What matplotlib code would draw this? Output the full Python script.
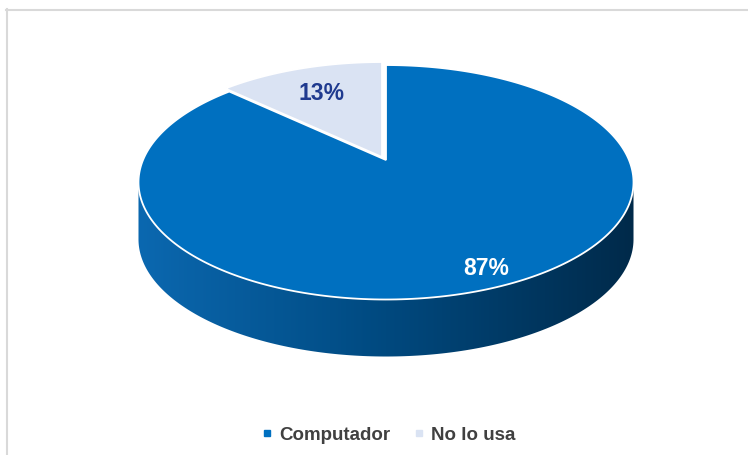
import numpy as np
import matplotlib.pyplot as plt
from matplotlib.patches import Polygon
from matplotlib.lines import Line2D
from matplotlib.colors import LinearSegmentedColormap

plt.rcParams['font.family'] = ['Liberation Sans', 'DejaVu Sans']

# ---------------------------------------------------------------------------
# Data
# ---------------------------------------------------------------------------
categories = ['Computador', 'No lo usa']
values = [87, 13]

colors = ['#0070C0', '#DAE3F3']
label_colors = ['white', '#1F3A8F']
explode_px = [(0, 0), (-4, -3)]        # small nudge of the light slice
label_r = [0.88, 0.70]

# ---------------------------------------------------------------------------
# 3-D pie geometry (pixel coordinates, y down)
# ---------------------------------------------------------------------------
CX, CY = 386, 161          # pie centre on screen
A, B = 243, 113            # horizontal / vertical radius
K = 0.19                   # perspective strength
DEPTH = 57                 # thickness of the disc


def proj(t, cx, cy, r=1.0):
    u, v = r * np.cos(t), r * np.sin(t)
    s = 1.0 / (1.0 + K * v)
    return cx + A * u * s, cy - B * v * s


side_cmap = LinearSegmentedColormap.from_list(
    'side', ['#0B68B0', '#00497F', '#002A4A'])

fig = plt.figure(figsize=(7.48, 4.56), dpi=100)
ax = fig.add_axes([0, 0, 1, 1])
ax.set_axis_off()

total = sum(values)
angles = [0.0]
for v in values:
    angles.append(angles[-1] + v / total * 2 * np.pi)

# visible front silhouette of the disc
front_lo, front_hi = -np.pi + np.arcsin(K), -np.arcsin(K)

# sides first
for i, v in enumerate(values):
    # clockwise from 12 o'clock
    t0 = np.pi / 2 - angles[i + 1]
    t1 = np.pi / 2 - angles[i]
    cx, cy = CX + explode_px[i][0], CY + explode_px[i][1]
    for shift in (0, -2 * np.pi, 2 * np.pi):
        lo = max(t0 + shift, front_lo)
        hi = min(t1 + shift, front_hi)
        if hi <= lo:
            continue
        t = np.linspace(lo, hi, 200)
        xs, ys = proj(t, cx, cy)
        pts = np.vstack([np.column_stack([xs, ys]),
                         np.column_stack([xs[::-1], ys[::-1] + DEPTH])])
        poly = Polygon(pts, closed=True, facecolor='none', edgecolor='none')
        ax.add_patch(poly)
        grad = np.linspace(0, 1, 256).reshape(1, -1)
        im = ax.imshow(grad, cmap=side_cmap, aspect='auto',
                       extent=(xs.min(), xs.max(), ys.max() + DEPTH, ys.min()),
                       zorder=1)
        im.set_clip_path(poly)

# top faces
for i, v in enumerate(values):
    t0 = np.pi / 2 - angles[i + 1]
    t1 = np.pi / 2 - angles[i]
    cx, cy = CX + explode_px[i][0], CY + explode_px[i][1]
    t = np.linspace(t0, t1, 300)
    xs, ys = proj(t, cx, cy)
    pts = np.vstack([[cx, cy], np.column_stack([xs, ys])])
    ax.add_patch(Polygon(pts, closed=True, facecolor=colors[i],
                         edgecolor='white', lw=1.3, zorder=2))

    tm = (t0 + t1) / 2
    lx, ly = proj(tm, cx, cy, label_r[i])
    ax.text(lx, ly, f'{v}%', ha='center', va='center', fontsize=16.5,
            fontweight='bold', color=label_colors[i], zorder=3)

# chart frame (top and left edges visible)
ax.add_line(Line2D([6, 748], [10.5, 10.5], color='#D9D9D9', lw=1.5))
ax.add_line(Line2D([7, 7], [10, 456], color='#D9D9D9', lw=1.5))

ax.set_xlim(0, 748)
ax.set_ylim(456, 0)

handles = [Line2D([], [], ls='none', marker='s', markersize=4.5,
                  markerfacecolor=c, markeredgecolor=c) for c in colors]
fig.legend(handles, categories, loc='center', bbox_to_anchor=(0.52, 0.044),
           ncol=2, frameon=False, handlelength=0.5,
           handletextpad=0.4, columnspacing=1.3, labelcolor='#404040',
           prop={'size': 13.5, 'weight': 'bold'})

fig.savefig('out.png', dpi=100)
